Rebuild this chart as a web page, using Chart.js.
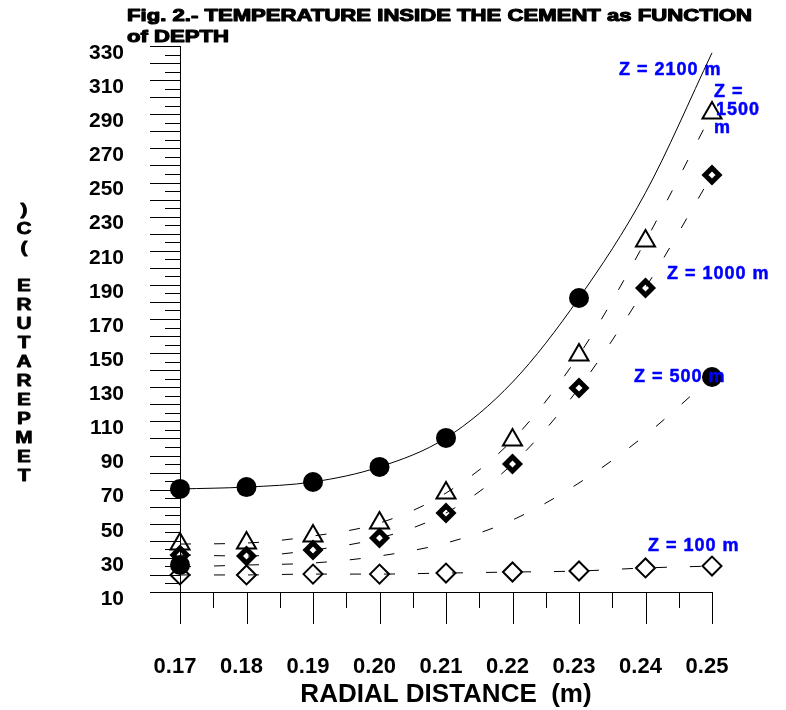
<!DOCTYPE html>
<html lang="en">
<head>
<meta charset="UTF-8">
<title>Fig. 2 - Temperature inside the cement as function of depth</title>
<script src="https://cdn.jsdelivr.net/npm/chart.js"></script>
<style>
  html, body { margin: 0; padding: 0; background: #fff; }
  canvas { display: block; }
</style>
</head>
<body>
<canvas id="tempChart" width="786" height="710"></canvas>

<script>
// radial distance (m) and temperature axis labels
const radius = [0.17, 0.18, 0.19, 0.20, 0.21, 0.22, 0.23, 0.24, 0.25];
const tempTicks = [10, 30, 50, 70, 90, 110, 130, 150, 170, 190, 210, 230, 250, 270, 290, 310, 330];

// measured temperatures (C) for each depth, null = no point plotted
const z2100 = [70.4, 71.5, 74.5, 83.3, 100.3, null, 182.3, null, null];
const z1500 = [38.1, 38.7, 42.8, 50.4, 68.0, 99.1, 148.9, 215.7, 290.7];
const z1000 = [31.7, 31.1, 34.6, 41.6, 56.3, 85.0, 129.6, 188.2, 254.4];
const z500 = [25.8, null, null, null, null, null, null, null, 136.0];
const z100 = [20.0, 20.0, 20.5, 20.5, 21.1, 21.7, 22.3, 24.1, 25.2];

// fitted curves
const z2100Fit = [70.4, 71.5, 74.5, 83.3, 100.3, 133.0, 182.3, 244.0, 326.0];
const z500Fit = [24.7, 25.8, 27.0, 31.1, 38.7, 52.2, 73.9, 102.0, 136.0];

const FONT = '"Liberation Sans", Arial, sans-serif';

function pts(arr) {
    return radius.map((r, i) => ({ x: r, y: arr[i] }));
}

// tick marks, title, stacked y title and depth labels
const decorPlugin = {
    id: 'decor',
    afterDraw(chart) {
        const ctx = chart.ctx;
        const xs = chart.scales.x, ys = chart.scales.y;
        ctx.save();

        // y ticks: long every 10, short every 5
        ctx.strokeStyle = '#000';
        ctx.lineWidth = 1;
        ctx.beginPath();
        for (let v = ys.min; v <= ys.max + 0.01; v += 5) {
            const py = Math.round(ys.getPixelForValue(v)) + 0.5;
            const len = (v % 10 === 0) ? 30 : 15;
            ctx.moveTo(xs.left - len, py);
            ctx.lineTo(xs.left, py);
        }
        // x ticks: long every 0.01, short in between
        for (let i = 0; i <= 16; i++) {
            const px = Math.round(xs.getPixelForValue(xs.min + i * 0.005)) + 0.5;
            const len = (i % 2 === 0) ? 32 : 16;
            ctx.moveTo(px, ys.bottom);
            ctx.lineTo(px, ys.bottom + len);
        }
        ctx.stroke();

        // figure title (heavy face)
        ctx.fillStyle = '#000';
        ctx.strokeStyle = '#000';
        ctx.lineWidth = 1.1;
        ctx.lineJoin = 'round';
        ctx.font = 'bold 17px ' + FONT;
        ctx.textAlign = 'left';
        ctx.textBaseline = 'middle';
        const line1 = 'Fig. 2.- TEMPERATURE INSIDE THE CEMENT as FUNCTION';
        const sx = 625 / ctx.measureText(line1).width;
        ctx.save();
        ctx.translate(127, 0);
        ctx.scale(sx, 1);
        ctx.fillText(line1, 0, 16);
        ctx.strokeText(line1, 0, 16);
        ctx.fillText('of DEPTH', 0, 37);
        ctx.strokeText('of DEPTH', 0, 37);
        ctx.restore();

        // y axis title, upright letters stacked bottom to top
        const yTitle = 'TEMPERATURE (C)';
        ctx.font = 'bold 16px ' + FONT;
        ctx.textAlign = 'center';
        ctx.lineWidth = 0.8;
        for (let i = 0; i < yTitle.length; i++) {
            ctx.save();
            ctx.translate(24, 477 - i * 19);
            ctx.scale(1.3, 1);
            ctx.fillText(yTitle[i], 0, 0);
            ctx.strokeText(yTitle[i], 0, 0);
            ctx.restore();
        }

        // depth labels
        ctx.fillStyle = '#0000ff';
        ctx.strokeStyle = '#0000ff';
        ctx.lineWidth = 0.5;
        ctx.font = 'bold 18px ' + FONT;
        ctx.textAlign = 'left';
        ctx.letterSpacing = '1px';
        const labels = [
            ['Z = 2100 m', 619, 70], ['Z =', 714, 92], ['1500', 716, 110], ['m', 714, 128],
            ['Z = 1000 m', 667, 274], ['Z = 500 m', 634, 377], ['Z = 100 m', 648, 546]
        ];
        labels.forEach(([t, x, y]) => {
            ctx.fillText(t, x, y);
            ctx.strokeText(t, x, y);
        });
        ctx.restore();
    }
};

new Chart(document.getElementById('tempChart'), {
    type: 'scatter',
    data: {
        datasets: [
            {
                label: 'Z = 2100 m fit',
                data: pts(z2100Fit),
                showLine: true,
                borderColor: '#000',
                borderWidth: 1,
                cubicInterpolationMode: 'monotone',
                pointRadius: 0,
                clip: false
            },
            {
                label: 'Z = 2100 m',
                data: pts(z2100),
                pointStyle: 'circle',
                pointRadius: 10,
                pointBackgroundColor: '#000',
                pointBorderWidth: 0,
                clip: false
            },
            {
                label: 'Z = 1500 m',
                data: pts(z1500),
                showLine: true,
                borderColor: '#000',
                borderWidth: 1,
                borderDash: [11, 23],
                cubicInterpolationMode: 'monotone',
                pointStyle: 'triangle',
                pointRadius: 11,
                pointBorderColor: '#000',
                pointBorderWidth: 2,
                pointBackgroundColor: 'rgba(0,0,0,0)',
                clip: false
            },
            {
                label: 'Z = 1000 m',
                data: pts(z1000),
                showLine: true,
                borderColor: '#000',
                borderWidth: 1,
                borderDash: [11, 23],
                cubicInterpolationMode: 'monotone',
                pointStyle: 'rectRot',
                pointRadius: 7,
                pointBorderColor: '#000',
                pointBorderWidth: 5,
                pointBackgroundColor: 'rgba(0,0,0,0)',
                clip: false
            },
            {
                label: 'Z = 500 m fit',
                data: pts(z500Fit),
                showLine: true,
                borderColor: '#000',
                borderWidth: 1,
                borderDash: [11, 23],
                cubicInterpolationMode: 'monotone',
                pointRadius: 0,
                clip: false
            },
            {
                label: 'Z = 500 m',
                data: pts(z500),
                pointStyle: 'circle',
                pointRadius: 10,
                pointBackgroundColor: '#000',
                pointBorderWidth: 0,
                clip: false
            },
            {
                label: 'Z = 100 m',
                data: pts(z100),
                showLine: true,
                borderColor: '#000',
                borderWidth: 1,
                borderDash: [11, 23],
                cubicInterpolationMode: 'monotone',
                pointStyle: 'rectRot',
                pointRadius: 9.5,
                pointBorderColor: '#000',
                pointBorderWidth: 2,
                pointBackgroundColor: 'rgba(0,0,0,0)',
                clip: false
            }
        ]
    },
    options: {
        responsive: false,
        animation: false,
        layout: { padding: { top: 46, right: 74, bottom: 0, left: 0 } },
        plugins: {
            legend: { display: false },
            tooltip: { enabled: false }
        },
        scales: {
            x: {
                type: 'linear',
                min: 0.17,
                max: 0.25,
                afterBuildTicks: s => { s.ticks = radius.map(v => ({ value: v })); },
                afterFit: s => { s.height = 118; },
                grid: { display: false, drawTicks: true, tickLength: 50 },
                border: { display: true, color: '#000', width: 1 },
                ticks: {
                    padding: 12,
                    labelOffset: -5,
                    color: '#000',
                    font: { family: FONT, size: 22, weight: 'bold' },
                    callback: v => v.toFixed(2)
                },
                title: {
                    display: true,
                    text: 'RADIAL DISTANCE  (m)',
                    color: '#000',
                    font: { family: FONT, size: 26, weight: 'bold' },
                    padding: { top: 0, bottom: 0 }
                }
            },
            y: {
                min: 10,
                max: 330,
                afterBuildTicks: s => { s.ticks = tempTicks.map(v => ({ value: v })); },
                afterFit: s => { s.width = 180; },
                grid: { display: false, drawTicks: true, tickLength: 30 },
                border: { display: true, color: '#000', width: 1 },
                ticks: {
                    padding: 26,
                    labelOffset: 7,
                    color: '#000',
                    font: { family: FONT, size: 21, weight: 'bold' }
                }
            }
        }
    },
    plugins: [decorPlugin]
});
</script>
</body>
</html>
